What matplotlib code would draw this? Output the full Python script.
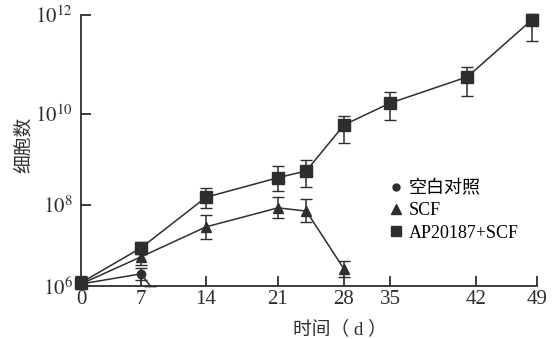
import numpy as np
import matplotlib
matplotlib.use("Agg")
import matplotlib.pyplot as plt
from matplotlib.lines import Line2D
from matplotlib.ticker import FuncFormatter

plt.rcParams['font.family'] = ['Liberation Serif', 'Noto Sans CJK SC']
plt.rcParams['mathtext.fontset'] = 'stix'

# days and log10(cell count)
blank_days = [0, 7, 8]
blank_log = [6.05, 6.3, 6.0]
blank_err = [0.0, 0.15, 0.0]

scf_days = [0, 7, 14, 21, 24, 28]
scf_log = [6.05, 6.72, 7.46, 7.93, 7.85, 6.42]
scf_err = [0.0, 0.2, 0.3, 0.25, 0.28, 0.2]

ap_days = [0, 7, 14, 21, 24, 28, 35, 41.3, 48.4]
ap_log = [6.08, 6.94, 8.17, 8.6, 8.75, 9.76, 10.22, 10.75, 11.9]
ap_err_lo = [0.08, 0.15, 0.25, 0.3, 0.35, 0.4, 0.35, 0.38, 0.42]
ap_err_hi = [0.17, 0.15, 0.2, 0.25, 0.25, 0.2, 0.22, 0.2, 0.12]

labels = ['空白对照', 'SCF', 'AP20187+SCF']
markers = ['o', '^', 's']
x_ticks = [0, 7, 14, 21, 28, 35, 42, 49]
y_ticks = [1e6, 1e8, 1e10, 1e12]

# the printed axes are not evenly spaced; keep the original tick spacing
x_pos = [0, 60, 125, 197, 263, 309, 395, 456]
y_dec = [6, 8, 10, 12]
y_pos = [0, 81, 172, 271]

col = '#2e2e2e'

fig = plt.figure(figsize=(5.53, 3.39), dpi=100)
ax = fig.add_axes([81 / 553, 53 / 339, 456 / 553, 271 / 339])


def lin_interp(x, xp, fp):
    # piecewise linear, extended linearly past both ends
    x = np.asarray(x, dtype=float)
    out = np.interp(x, xp, fp)
    lo = x < xp[0]
    hi = x > xp[-1]
    out = np.where(lo, fp[0] + (x - xp[0]) * (fp[1] - fp[0]) / (xp[1] - xp[0]), out)
    out = np.where(hi, fp[-1] + (x - xp[-1]) * (fp[-1] - fp[-2]) / (xp[-1] - xp[-2]), out)
    return out


def xf(x):
    return lin_interp(x, x_ticks, x_pos)


def xi(t):
    return lin_interp(t, x_pos, x_ticks)


def yf(v):
    return lin_interp(np.log10(np.clip(v, 1e-30, None)), y_dec, y_pos)


def yi(t):
    return 10 ** lin_interp(t, y_pos, y_dec)


def to_err(vals, lo, hi):
    vals = np.array(vals)
    v = 10 ** vals
    return v, [v - 10 ** (vals - np.array(lo)), 10 ** (vals + np.array(hi)) - v]


ax.set_xscale('function', functions=(xf, xi))
ax.set_yscale('function', functions=(yf, yi))

sizes = [6, 7, 8.5]
series = [(blank_days, blank_log, blank_err, blank_err),
          (scf_days, scf_log, scf_err, scf_err),
          (ap_days, ap_log, ap_err_lo, ap_err_hi)]
for i, ((d, lg, lo, hi), m, ms) in enumerate(zip(series, markers, sizes)):
    v, e = to_err(lg, lo, hi)
    # the blank line just runs down to the axis after day 7, no marker there
    every = [0, 1] if i == 0 else None
    ax.errorbar(d, v, yerr=e, color=col, marker=m, ms=ms, lw=1.1, markevery=every,
                capsize=4, elinewidth=1.1, clip_on=False)

ax.set_ylim(1e6, 1e12)
ax.set_xlim(0, 49)
ax.set_xticks(x_ticks)
ax.set_yticks(y_ticks)
ax.yaxis.set_major_formatter(FuncFormatter(lambda v, p: r'$10^{%d}$' % round(np.log10(v))))
ax.minorticks_off()
ax.tick_params(direction='in', length=7, width=1.3, labelsize=15, colors=col)
ax.tick_params(axis='y', pad=6)
ax.tick_params(axis='x', pad=3)
for s in ['top', 'right']:
    ax.spines[s].set_visible(False)
for s in ['left', 'bottom']:
    ax.spines[s].set_linewidth(1.3)
    ax.spines[s].set_color(col)

ax.set_xlabel('时间（ d ）', fontsize=13.5, color=col)
ax.xaxis.set_label_coords(0.568, -0.125)
ax.set_ylabel('细胞数', fontsize=13.5, color=col)
ax.yaxis.set_label_coords(-0.105, 0.52)

handles = [Line2D([], [], ls='none', marker=m, ms=ms, color=col)
           for m, ms in zip(markers, [5, 7, 7])]
ax.legend(handles, labels, loc='upper left', bbox_to_anchor=(0.66, 0.425), frameon=False,
          fontsize=13, handlelength=0.6, handletextpad=0.4, labelspacing=0.3,
          borderpad=0)

fig.savefig('out.png', dpi=100)
